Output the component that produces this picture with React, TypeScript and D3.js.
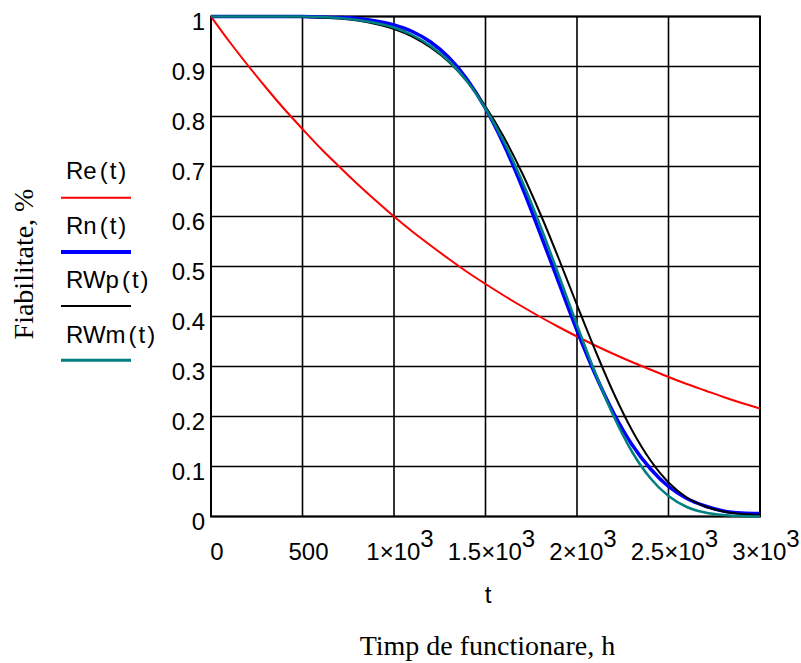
import React from "react";
import * as d3 from "d3";

const times = [0, 100, 200, 300, 400, 500, 600, 700, 800, 900, 1000, 1100, 1200, 1300, 1400, 1500, 1600, 1700, 1800, 1900, 2000, 2100, 2200, 2300, 2400, 2500, 2600, 2700, 2800, 2900, 3000];

const Re = [1, 0.950, 0.903, 0.858, 0.815, 0.775, 0.736, 0.700, 0.665, 0.632, 0.600, 0.570, 0.542, 0.515, 0.489, 0.465, 0.442, 0.420, 0.399, 0.379, 0.360, 0.342, 0.325, 0.309, 0.294, 0.279, 0.265, 0.252, 0.239, 0.227, 0.216];
const Rn = [1, 1, 1, 1, 1, 1, 0.999, 0.998, 0.996, 0.991, 0.983, 0.970, 0.949, 0.918, 0.874, 0.816, 0.744, 0.659, 0.565, 0.468, 0.372, 0.284, 0.207, 0.144, 0.096, 0.060, 0.036, 0.021, 0.011, 0.007, 0.006];
const RWp = [1, 1, 1, 1, 1, 0.999, 0.998, 0.996, 0.992, 0.985, 0.975, 0.960, 0.938, 0.909, 0.870, 0.820, 0.759, 0.687, 0.605, 0.516, 0.423, 0.332, 0.247, 0.173, 0.113, 0.068, 0.038, 0.020, 0.010, 0.005, 0.003];
const RWm = [1, 1, 1, 1, 1, 1, 0.999, 0.997, 0.993, 0.987, 0.978, 0.963, 0.941, 0.911, 0.870, 0.816, 0.750, 0.671, 0.581, 0.483, 0.383, 0.287, 0.201, 0.130, 0.077, 0.041, 0.019, 0.008, 0.003, 0.001, 0.000];

const xTicks = [0, 500, 1000, 1500, 2000, 2500, 3000];
const xTickLabels = [["0", ""], ["500", ""], ["1×10", "3"], ["1.5×10", "3"], ["2×10", "3"], ["2.5×10", "3"], ["3×10", "3"]];
const yTicks = [0, 0.1, 0.2, 0.3, 0.4, 0.5, 0.6, 0.7, 0.8, 0.9, 1];
const yTickLabels = ["0", "0.1", "0.2", "0.3", "0.4", "0.5", "0.6", "0.7", "0.8", "0.9", "1"];

const seriesNames = ["Re", "Rn", "RWp", "RWm"];
const seriesData = [Re, Rn, RWp, RWm];
const seriesColors = ["#ff0000", "#0000ff", "#000000", "#008080"];
const seriesWidths = [2, 3.5, 2, 2.5];
const legendWidths = [2, 4, 2, 3];

const SANS = "'Liberation Sans', Arial, sans-serif";
const SERIF = "'Liberation Serif', 'Times New Roman', serif";

export default function App() {
  const left = 211, right = 760, top = 16.5, bottom = 516.5;
  const x = d3.scaleLinear().domain([0, 3000]).range([left, right]);
  const y = d3.scaleLinear().domain([0, 1]).range([bottom, top]);
  const line = d3
    .line<number>()
    .x((_, i) => x(times[i]))
    .y((d) => y(d))
    .curve(d3.curveMonotoneX);

  return (
    <svg width={801} height={663} style={{ position: "absolute", left: 0, top: 0, background: "#fff" }}>
      {/* grid */}
      {xTicks.map((t) => (
        <line key={"gx" + t} x1={x(t)} x2={x(t)} y1={top} y2={bottom} stroke="#000" strokeWidth={1.6} />
      ))}
      {yTicks.map((t) => (
        <line key={"gy" + t} x1={left} x2={right} y1={y(t)} y2={y(t)} stroke="#000" strokeWidth={1.6} />
      ))}
      <rect x={left} y={top} width={right - left} height={bottom - top} fill="none" stroke="#000" strokeWidth={2} />

      {/* series */}
      {seriesData.map((s, i) => (
        <path key={seriesNames[i]} d={line(s) || ""} fill="none" stroke={seriesColors[i]} strokeWidth={seriesWidths[i]} />
      ))}

      {/* y tick labels */}
      {yTicks.map((t, i) => (
        <text key={"yl" + t} x={205} y={y(t) + 13} textAnchor="end" fontFamily={SANS} fontSize={24} fill="#000">
          {yTickLabels[i]}
        </text>
      ))}

      {/* x tick labels */}
      {xTicks.map((t, i) => (
        <text key={"xl" + t} x={x(t) + 6} y={560} textAnchor="middle" fontFamily={SANS} fontSize={24} fill="#000">
          {xTickLabels[i][0]}
          {xTickLabels[i][1] ? (
            <tspan dy={-13}>{xTickLabels[i][1]}</tspan>
          ) : null}
        </text>
      ))}

      <text x={488} y={603} textAnchor="middle" fontFamily={SANS} fontSize={24} fill="#000">t</text>
      <text x={487.5} y={655} textAnchor="middle" fontFamily={SERIF} fontSize={28} fill="#000">Timp de functionare, h</text>
      <text transform="translate(33,264) rotate(-90)" textAnchor="middle" fontFamily={SERIF} fontSize={28} fill="#000">Fiabilitate, %</text>

      {/* legend */}
      {seriesNames.map((n, i) => {
        const base = 179.3 + i * 54.5;
        const ly = 197.7 + i * 54.2;
        return (
          <g key={"lg" + n}>
            <text x={66} y={base} fontFamily={SANS} fontSize={24} fill="#000">
              {n}
              <tspan dx={3}>(</tspan>
              <tspan dx={2}>t</tspan>
              <tspan dx={2}>)</tspan>
            </text>
            <line x1={61} x2={131} y1={ly} y2={ly} stroke={seriesColors[i]} strokeWidth={legendWidths[i]} />
          </g>
        );
      })}
    </svg>
  );
}
